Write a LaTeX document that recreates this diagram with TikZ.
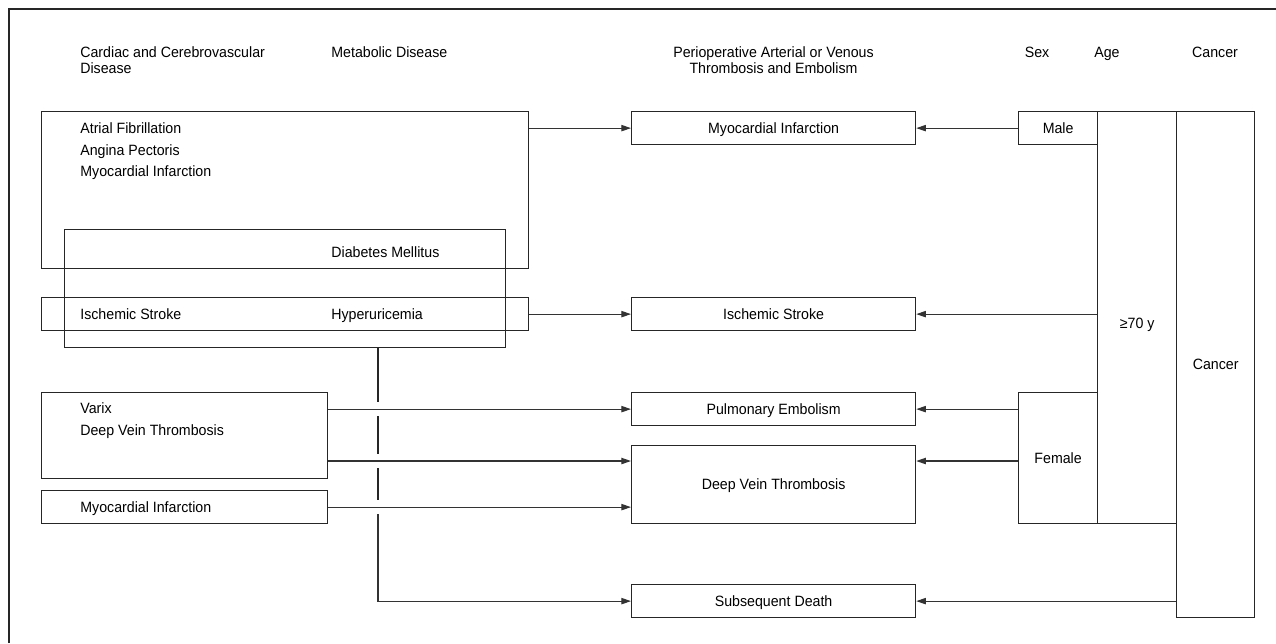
\documentclass[tikz,border=0pt]{standalone}
\usepackage{fontspec}
\setmainfont{Liberation Sans}[FakeStretch=0.95]
\usetikzlibrary{arrows.meta,calc}
\tikzset{
  box/.style={draw=black!85, line width=0.7pt, inner sep=0pt, anchor=north west, text height=6.1pt, text depth=0pt},
  txt/.style={font=\fontsize{8.5}{12.2}\selectfont, align=left, inner sep=0pt, anchor=west},
  one/.style={text height=6.1pt, text depth=0pt},
  head/.style={font=\fontsize{8.5}{9.1}\selectfont, inner sep=0pt},
  arr/.style={draw=black!80, line width=0.7pt, -{Triangle[length=5.5pt,width=3.6pt]}},
  wire/.style={draw=black!85, line width=0.7pt}
}
\begin{document}
\begin{tikzpicture}[font=\fontsize{8.5}{10}\selectfont]
    \useasboundingbox (0,0) rectangle (25.52,-12.86);
    \draw[wire] (0.18,-12.86) -- (0.18,-0.18) -- (25.52,-0.18);

    \node[head, align=left, anchor=west] (hcard) at (1.60,-1.20) {Cardiac and Cerebrovascular\\Disease};
    \node[head, one, anchor=west] (hmeta) at (6.62,-1.04) {Metabolic Disease};
    \node[head, align=center] (hperi) at (15.47,-1.20) {Perioperative Arterial or Venous\\Thrombosis and Embolism};
    \node[head, one] (hsex) at (20.74,-1.04) {Sex};
    \node[head, one] (hage) at (22.14,-1.04) {Age};
    \node[head, one] (hcan) at (24.30,-1.04) {Cancer};

    \node[box, minimum width=9.74cm, minimum height=3.14cm] (card) at (0.82,-2.22) {};
    \node[box, minimum width=8.82cm, minimum height=2.36cm] (meta) at (1.28,-4.58) {};
    \node[box, minimum width=9.74cm, minimum height=0.66cm] (strk) at (0.82,-5.94) {};
    \node[box, minimum width=5.72cm, minimum height=1.72cm] (varx) at (0.82,-7.84) {};
    \node[box, minimum width=5.72cm, minimum height=0.66cm] (mitwo) at (0.82,-9.80) {};

    \node[txt] (tcard) at (1.60,-3.03) {Atrial Fibrillation\\Angina Pectoris\\Myocardial Infarction};
    \node[txt, one] (tdm) at (6.62,-5.05) {Diabetes Mellitus};
    \node[txt, one] (tstrk) at (1.60,-6.28) {Ischemic Stroke};
    \node[txt, one] (thu) at (6.62,-6.28) {Hyperuricemia};
    \node[txt] (tvarx) at (1.60,-8.41) {Varix\\Deep Vein Thrombosis};
    \node[txt, one] (tmitwo) at (1.60,-10.14) {Myocardial Infarction};

    \node[box, minimum width=5.68cm, minimum height=0.66cm] (omi) at (12.62,-2.22) {Myocardial Infarction};
    \node[box, minimum width=5.68cm, minimum height=0.66cm] (ois) at (12.62,-5.94) {Ischemic Stroke};
    \node[box, minimum width=5.68cm, minimum height=0.66cm] (ope) at (12.62,-7.84) {Pulmonary Embolism};
    \node[box, minimum width=5.68cm, minimum height=1.56cm] (odvt) at (12.62,-8.90) {Deep Vein Thrombosis};
    \node[box, minimum width=5.68cm, minimum height=0.66cm] (osd) at (12.62,-11.68) {Subsequent Death};

    \node[box, minimum width=1.58cm, minimum height=0.66cm] (male) at (20.36,-2.22) {Male};
    \node[box, minimum width=1.58cm, minimum height=2.62cm] (female) at (20.36,-7.84) {Female};
    \node[box, minimum width=1.58cm, minimum height=8.24cm] (age) at (21.94,-2.22) {};
    \node[box, minimum width=1.56cm, minimum height=10.12cm] (cancer) at (23.52,-2.22) {Cancer};
    \node[one] (tage) at ($(age.center)+(0,-0.12)$) {≥70 y};

    \coordinate (dvtin) at (0,-9.22);
    \coordinate (mtap) at (7.56,-6.94);

    \draw[arr] (omi.west -| card.east) -- (omi.west);
    \draw[arr] (strk.east) -- (ois.west);
    \draw[arr] (ope.west -| varx.east) -- (ope.west);
    \draw[arr] (dvtin -| varx.east) -- (dvtin -| odvt.west);
    \draw[arr] (mitwo.east) -- (mitwo.east -| odvt.west);

    \draw[wire] (mtap) -- ([yshift=0.14cm]mtap |- ope.west);
    \draw[wire] ([yshift=-0.14cm]mtap |- ope.west) -- ([yshift=0.14cm]mtap |- dvtin);
    \draw[wire] ([yshift=-0.14cm]mtap |- dvtin) -- ([yshift=0.14cm]mtap |- mitwo.east);
    \draw[arr] ([yshift=-0.14cm]mtap |- mitwo.east) -- (mtap |- osd.west) -- (osd.west);

    \draw[arr] (male.west) -- (male.west -| omi.east);
    \draw[arr] (age.west |- ois.east) -- (ois.east);
    \draw[arr] (female.west |- ope.east) -- (ope.east);
    \draw[arr] (female.west |- dvtin) -- (odvt.east |- dvtin);
    \draw[arr] (cancer.west |- osd.east) -- (osd.east);
\end{tikzpicture}
\end{document}
